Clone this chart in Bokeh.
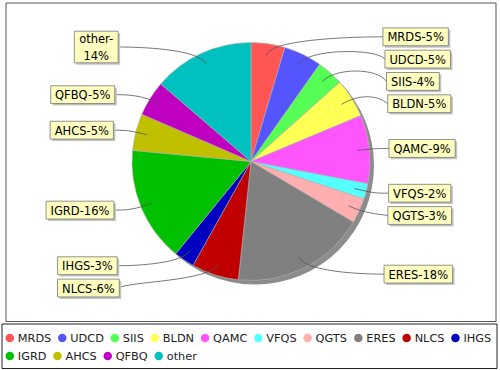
import math
from bokeh.plotting import figure
from bokeh.models import Range1d, ColumnDataSource
from bokeh.embed import file_html
from bokeh.resources import INLINE
from bokeh.core.properties import value

# ---------------- data ----------------
categories = ["MRDS", "UDCD", "SIIS", "BLDN", "QAMC", "VFQS", "QGTS",
              "ERES", "NLCS", "IHGS", "IGRD", "AHCS", "QFBQ", "other"]
shares = [4.6, 5.2, 3.6, 5.3, 9.3, 2.1, 3.4, 18.2, 6.4, 2.8, 15.6, 5.0, 4.8, 13.7]
pie_labels = ["MRDS-5%", "UDCD-5%", "SIIS-4%", "BLDN-5%", "QAMC-9%", "VFQS-2%",
              "QGTS-3%", "ERES-18%", "NLCS-6%", "IHGS-3%", "IGRD-16%", "AHCS-5%",
              "QFBQ-5%", "other-\n14%"]
colors = ["#FF5555", "#5555FF", "#55FF55", "#FFFF55", "#FF55FF", "#55FFFF",
          "#FFAFAF", "#808080", "#C00000", "#0000C0", "#00C000", "#C0C000",
          "#C000C0", "#00C0C0"]

# ---------------- layout ----------------
FW, FH = 500, 370
FONT = "DejaVu Sans"
LBL_FS = 11.5
LEG_FS = 11.3

def Y(yp):
    return FH - yp

# approximate DejaVu Sans advance widths (units / 2048)
ADV = {'A': 1401, 'B': 1405, 'C': 1430, 'D': 1577, 'E': 1294, 'F': 1178, 'G': 1587,
       'H': 1540, 'I': 604, 'L': 1141, 'M': 1767, 'N': 1532, 'Q': 1612, 'R': 1423,
       'S': 1300, 'T': 1251, 'U': 1499, 'V': 1401, 'o': 1253, 't': 803, 'h': 1298,
       'e': 1260, 'r': 842, '-': 739, '%': 1946, ' ': 651}

def tw(s, size):
    return max(sum(ADV.get(c, 1303) for c in line) for line in s.split("\n")) / 2048.0 * size

p = figure(width=FW, height=FH, x_range=Range1d(0, FW), y_range=Range1d(0, FH),
           output_backend="svg", toolbar_location=None, min_border=0,
           x_axis_type=None, y_axis_type=None)
p.grid.visible = False
p.outline_line_color = None
p.background_fill_color = "white"
p.border_fill_color = "white"

# plot frame and legend frame
p.quad(left=[5.5], right=[495.5], top=[Y(2.5)], bottom=[Y(321)],
       fill_color=None, line_color="#555555", line_width=1)
leg_top, leg_bottom = 323.5, 368
p.quad(left=[1.5], right=[496.5], top=[Y(leg_top)], bottom=[Y(leg_bottom)],
       fill_color=None, line_color="#222222", line_width=1)

# pie
cx, cy, R = 250.5, 161.0, 119.0
total = float(sum(shares))
fracs = [s / total for s in shares]
cum = [0.0]
for f in fracs:
    cum.append(cum[-1] + f)
start = [math.pi / 2 - 2 * math.pi * cum[i] for i in range(len(fracs))]
end = [math.pi / 2 - 2 * math.pi * cum[i + 1] for i in range(len(fracs))]

p.circle(x=[cx + 4], y=[Y(cy + 4)], radius=R, fill_color="#8c8c8c", line_color=None)
src = ColumnDataSource(dict(start=start, end=end, color=colors))
p.wedge(x=cx, y=Y(cy), radius=R, start_angle="start", end_angle="end",
        direction="clock", fill_color="color", line_color="#b4b4b4",
        line_width=0.6, source=src)

# labels
LR = 126.0
BX = 138.0
BY = 424.0
recs = []
for i, lab in enumerate(pie_labels):
    th = 2 * math.pi * (cum[i] + fracs[i] / 2)
    side = 1 if math.sin(th) > 0 else -1
    nlines = lab.count("\n") + 1
    h = 4 + nlines * LBL_FS * 1.2
    recs.append(dict(i=i, th=th, side=side, nat=cy - math.cos(th) * LR, h=h, lab=lab))

for side in (1, -1):
    rs = sorted([r for r in recs if r["side"] == side], key=lambda r: r["nat"])
    prev = None
    for r in rs:
        y = r["nat"]
        if prev is not None:
            y = max(y, prev["y"] + (prev["h"] + r["h"]) / 2 + 4.5)
        r["y"] = y
        prev = r

bx0, bx1, bt, bb, tx, ty, tt = [], [], [], [], [], [], []
lx0, ly0, lx1, ly1, lc0x, lc0y, lc1x, lc1y = [], [], [], [], [], [], [], []
for r in recs:
    th, y, side = r["th"], r["y"], r["side"]
    w = tw(r["lab"], LBL_FS) + 9
    edge = cx + side * BX * math.sqrt(max(0.0, 1 - ((y - cy) / BY) ** 2))
    if side == 1:
        left, right = edge, edge + w
    else:
        left, right = edge - w, edge
    bx0.append(left); bx1.append(right)
    bt.append(Y(y - r["h"] / 2)); bb.append(Y(y + r["h"] / 2))
    tx.append((left + right) / 2); ty.append(Y(y + 0.5)); tt.append(r["lab"])
    # link curve (cubic, from label to a point inside the slice)
    linkx, linky = cx + math.sin(th) * 0.9 * R, cy - math.cos(th) * 0.9 * R
    elbx, elby = cx + math.sin(th) * LR, cy - math.cos(th) * LR
    ancx = cx + side * LR
    lx0.append(edge); ly0.append(Y(y))
    lc0x.append(ancx); lc0y.append(Y(elby))
    lc1x.append(elbx); lc1y.append(Y(elby))
    lx1.append(linkx); ly1.append(Y(linky))

p.bezier(x0=lx0, y0=ly0, x1=lx1, y1=ly1, cx0=lc0x, cy0=lc0y, cx1=lc1x, cy1=lc1y,
         line_color="#555555", line_width=0.8)
p.quad(left=[a + 2 for a in bx0], right=[a + 2 for a in bx1],
       top=[a - 2 for a in bt], bottom=[a - 2 for a in bb],
       fill_color="#c4c4c4", line_color=None)
p.quad(left=bx0, right=bx1, top=bt, bottom=bb, fill_color="#FFFFC0",
       line_color="#777777", line_width=0.8)
p.text(x=tx, y=ty, text=tt, text_align="center", text_baseline="middle",
       text_font=value(FONT), text_font_size=f"{LBL_FS}px", text_color="#000000",
       text_line_height=1.2)

# legend (flow layout)
row_y = [337.5, 355.5]
mx, my, mc, lx, ly, lt = [], [], [], [], [], []
x = 9.3
row = 0
for cat, col in zip(categories, colors):
    w = tw(cat, LEG_FS)
    if x + 8 + w > 496:
        row += 1
        x = 9.3
    mx.append(x); my.append(Y(row_y[row])); mc.append(col)
    lx.append(x + 8); ly.append(Y(row_y[row] + 0.5)); lt.append(cat)
    x += 8 + w + 11

p.scatter(x=mx, y=my, marker="circle", size=8.5, fill_color=mc, line_color=None)
p.text(x=lx, y=ly, text=lt, text_align="left", text_baseline="middle",
       text_font=value(FONT), text_font_size=f"{LEG_FS}px", text_color="#222222")

open("out.html", "w").write(file_html(p, INLINE))
